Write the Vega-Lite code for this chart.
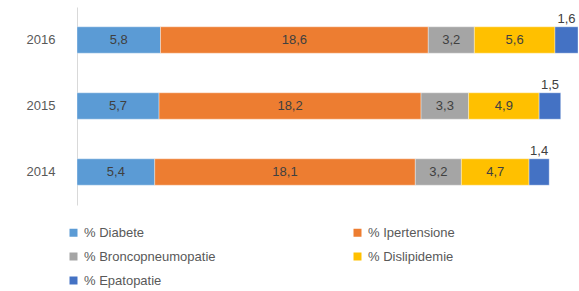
{
  "$schema": "https://vega.github.io/schema/vega-lite/v6.json",
  "autosize": {"type": "none"},
  "width": 501,
  "height": 198,
  "padding": {"left": 77, "top": 7, "right": 1, "bottom": 86},
  "config": {
    "view": {"stroke": null},
    "font": "Liberation Sans",
    "locale": {"number": {"decimal": ",", "thousands": ".", "grouping": [3], "currency": ["€", ""]}}
  },
  "data": {
    "values": [
      {"anno": "2016", "cat": "% Diabete", "ord": 1, "v": 5.8},
      {"anno": "2016", "cat": "% Ipertensione", "ord": 2, "v": 18.6},
      {"anno": "2016", "cat": "% Broncopneumopatie", "ord": 3, "v": 3.2},
      {"anno": "2016", "cat": "% Dislipidemie", "ord": 4, "v": 5.6},
      {"anno": "2016", "cat": "% Epatopatie", "ord": 5, "v": 1.6},
      {"anno": "2015", "cat": "% Diabete", "ord": 1, "v": 5.7},
      {"anno": "2015", "cat": "% Ipertensione", "ord": 2, "v": 18.2},
      {"anno": "2015", "cat": "% Broncopneumopatie", "ord": 3, "v": 3.3},
      {"anno": "2015", "cat": "% Dislipidemie", "ord": 4, "v": 4.9},
      {"anno": "2015", "cat": "% Epatopatie", "ord": 5, "v": 1.5},
      {"anno": "2014", "cat": "% Diabete", "ord": 1, "v": 5.4},
      {"anno": "2014", "cat": "% Ipertensione", "ord": 2, "v": 18.1},
      {"anno": "2014", "cat": "% Broncopneumopatie", "ord": 3, "v": 3.2},
      {"anno": "2014", "cat": "% Dislipidemie", "ord": 4, "v": 4.7},
      {"anno": "2014", "cat": "% Epatopatie", "ord": 5, "v": 1.4}
    ]
  },
  "transform": [
    {"stack": "v", "groupby": ["anno"], "sort": [{"field": "ord", "order": "ascending"}], "as": ["x0", "x1"]},
    {"calculate": "(datum.x0 + datum.x1) / 2", "as": "mid"}
  ],
  "encoding": {
    "y": {
      "field": "anno", "type": "nominal", "sort": ["2016", "2015", "2014"],
      "scale": {"paddingInner": 0.6, "paddingOuter": 0.3},
      "axis": {"title": null, "ticks": false, "labelPadding": 22, "labelFontSize": 13, "labelColor": "#595959", "domainColor": "#d9d9d9", "domainWidth": 1}
    }
  },
  "layer": [
    {
      "mark": {"type": "bar", "stroke": "#ffffff", "strokeWidth": 0.6, "strokeOpacity": 0.6},
      "encoding": {
        "x": {"field": "x0", "type": "quantitative", "scale": {"domain": [0, 34.8], "nice": false, "zero": true}, "axis": null},
        "x2": {"field": "x1"},
        "color": {
          "field": "cat", "type": "nominal",
          "scale": {
            "domain": ["% Diabete", "% Broncopneumopatie", "% Epatopatie", "% Ipertensione", "% Dislipidemie"],
            "range": ["#5B9BD5", "#A5A5A5", "#4472C4", "#ED7D31", "#FFC000"]
          },
          "legend": {
            "title": null, "orient": "none", "legendX": -10, "legendY": 219,
            "columns": 2, "columnPadding": 135, "gridAlign": "all", "rowPadding": 10,
            "symbolType": "square", "symbolSize": 64, "symbolStrokeWidth": 0, "symbolOffset": 0,
            "labelFontSize": 13, "labelColor": "#595959", "labelOffset": 4, "labelLimit": 300
          }
        }
      }
    },
    {
      "transform": [{"filter": "datum.ord != 5"}],
      "mark": {"type": "text", "fontSize": 13, "color": "#404040"},
      "encoding": {
        "x": {"field": "mid", "type": "quantitative"},
        "text": {"field": "v", "type": "quantitative", "format": ".1f"}
      }
    },
    {
      "transform": [{"filter": "datum.ord == 5"}],
      "mark": {"type": "text", "fontSize": 13, "color": "#404040", "dy": -21},
      "encoding": {
        "x": {"field": "mid", "type": "quantitative"},
        "text": {"field": "v", "type": "quantitative", "format": ".1f"}
      }
    }
  ]
}
